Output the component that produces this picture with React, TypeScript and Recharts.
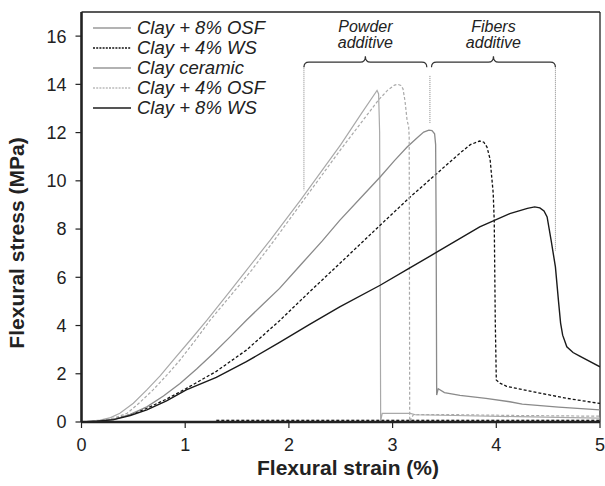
import React from 'react';
import { LineChart, Line, XAxis, YAxis, ReferenceLine } from 'recharts';

const FONT = '"Liberation Sans", Arial, Helvetica, sans-serif';

const xTicks = [0, 1, 2, 3, 4, 5];
const yTicks = [0, 2, 4, 6, 8, 10, 12, 14, 16];

const seriesNames = ['Clay + 8% OSF', 'Clay + 4% WS', 'Clay ceramic', 'Clay + 4% OSF', 'Clay + 8% WS'];

const clayOSF8 = [
  { x: 0, y: 0 }, { x: 0.18, y: 0.08 }, { x: 0.28, y: 0.18 }, { x: 0.37, y: 0.36 }, { x: 0.5, y: 0.78 },
  { x: 0.63, y: 1.33 }, { x: 0.76, y: 1.92 }, { x: 0.885, y: 2.57 }, { x: 1.05, y: 3.4 }, { x: 1.21, y: 4.22 },
  { x: 1.4, y: 5.25 }, { x: 1.59, y: 6.29 }, { x: 1.82, y: 7.54 }, { x: 2.11, y: 9.19 }, { x: 2.5, y: 11.5 },
  { x: 2.7, y: 12.8 }, { x: 2.85, y: 13.75 }, { x: 2.865, y: 13.6 }, { x: 2.875, y: 12 }, { x: 2.885, y: 0.05 },
  { x: 2.9, y: 0.36 }, { x: 3.17, y: 0.36 }, { x: 3.22, y: 0.3 }, { x: 3.6, y: 0.27 }, { x: 4.2, y: 0.22 }, { x: 5, y: 0.16 },
];

const clayWS4 = [
  { x: 0, y: 0 }, { x: 0.15, y: 0.03 }, { x: 0.31, y: 0.12 }, { x: 0.47, y: 0.3 }, { x: 0.63, y: 0.57 },
  { x: 0.82, y: 0.95 }, { x: 1.01, y: 1.39 }, { x: 1.3, y: 2.1 }, { x: 1.59, y: 2.98 }, { x: 1.91, y: 4.2 },
  { x: 2.2, y: 5.4 }, { x: 2.49, y: 6.57 }, { x: 2.88, y: 8.16 }, { x: 3.17, y: 9.33 }, { x: 3.46, y: 10.43 },
  { x: 3.65, y: 11.15 }, { x: 3.75, y: 11.5 }, { x: 3.84, y: 11.65 }, { x: 3.88, y: 11.6 }, { x: 3.91, y: 11.4 },
  { x: 3.94, y: 10.9 }, { x: 3.95, y: 10.43 }, { x: 3.97, y: 9.5 }, { x: 3.98, y: 8.36 }, { x: 3.99, y: 4.22 },
  { x: 4.0, y: 1.74 }, { x: 4.04, y: 1.6 }, { x: 4.1, y: 1.48 }, { x: 4.36, y: 1.25 }, { x: 4.68, y: 0.98 }, { x: 5, y: 0.77 },
];

const clayCeramic = [
  { x: 0, y: 0 }, { x: 0.15, y: 0.02 }, { x: 0.31, y: 0.1 }, { x: 0.47, y: 0.32 }, { x: 0.63, y: 0.63 },
  { x: 0.79, y: 1.08 }, { x: 0.95, y: 1.6 }, { x: 1.11, y: 2.2 }, { x: 1.27, y: 2.84 }, { x: 1.43, y: 3.52 },
  { x: 1.59, y: 4.22 }, { x: 1.75, y: 4.88 }, { x: 1.91, y: 5.54 }, { x: 2.11, y: 6.5 }, { x: 2.32, y: 7.5 },
  { x: 2.49, y: 8.36 }, { x: 2.7, y: 9.33 }, { x: 2.88, y: 10.16 }, { x: 3.02, y: 10.85 }, { x: 3.14, y: 11.4 },
  { x: 3.24, y: 11.8 }, { x: 3.3, y: 12.02 }, { x: 3.35, y: 12.1 }, { x: 3.38, y: 12.08 }, { x: 3.405, y: 11.95 },
  { x: 3.415, y: 11.5 }, { x: 3.42, y: 8 }, { x: 3.425, y: 1.12 }, { x: 3.44, y: 1.38 }, { x: 3.5, y: 1.22 },
  { x: 3.65, y: 1.1 }, { x: 3.9, y: 0.98 }, { x: 4.13, y: 0.84 }, { x: 4.25, y: 0.74 }, { x: 4.6, y: 0.62 }, { x: 5, y: 0.5 },
];

const clayOSF4 = [
  { x: 0, y: 0 }, { x: 0.2, y: 0.06 }, { x: 0.32, y: 0.17 }, { x: 0.44, y: 0.36 }, { x: 0.56, y: 0.8 },
  { x: 0.69, y: 1.33 }, { x: 0.82, y: 1.93 }, { x: 0.95, y: 2.57 }, { x: 1.1, y: 3.4 }, { x: 1.24, y: 4.22 },
  { x: 1.44, y: 5.25 }, { x: 1.64, y: 6.29 }, { x: 1.86, y: 7.54 }, { x: 2.14, y: 9.19 }, { x: 2.5, y: 11.3 },
  { x: 2.86, y: 13.33 }, { x: 2.95, y: 13.75 }, { x: 3.02, y: 13.97 }, { x: 3.05, y: 14.0 }, { x: 3.08, y: 13.95 },
  { x: 3.1, y: 13.82 }, { x: 3.12, y: 13.3 }, { x: 3.14, y: 12.5 }, { x: 3.155, y: 12.25 }, { x: 3.16, y: 11.8 },
  { x: 3.165, y: 0.03 }, { x: 3.2, y: 0.3 }, { x: 3.5, y: 0.31 }, { x: 4.2, y: 0.27 }, { x: 5, y: 0.24 },
];

const clayWS8 = [
  { x: 0, y: 0 }, { x: 0.15, y: 0.03 }, { x: 0.31, y: 0.1 }, { x: 0.47, y: 0.27 }, { x: 0.63, y: 0.5 },
  { x: 0.82, y: 0.88 }, { x: 1.01, y: 1.33 }, { x: 1.3, y: 1.85 }, { x: 1.59, y: 2.5 }, { x: 1.91, y: 3.3 },
  { x: 2.2, y: 4.05 }, { x: 2.49, y: 4.77 }, { x: 2.88, y: 5.67 }, { x: 3.15, y: 6.35 }, { x: 3.43, y: 7.05 },
  { x: 3.84, y: 8.09 }, { x: 4.13, y: 8.64 }, { x: 4.3, y: 8.86 }, { x: 4.37, y: 8.92 }, { x: 4.42, y: 8.88 },
  { x: 4.46, y: 8.75 }, { x: 4.49, y: 8.5 }, { x: 4.53, y: 7.5 }, { x: 4.57, y: 6.43 }, { x: 4.6, y: 5 },
  { x: 4.62, y: 4.1 }, { x: 4.64, y: 3.6 }, { x: 4.68, y: 3.12 }, { x: 4.74, y: 2.88 }, { x: 4.8, y: 2.74 }, { x: 5, y: 2.29 },
];

const wsBaseline = [{ x: 1.3, y: 0.06 }, { x: 5, y: 0.06 }];
const osfBaseline = [{ x: 1.3, y: 0.1 }, { x: 5, y: 0.1 }];

const powderBrace = [{ x: 2.145, y: 14.92 }, { x: 3.33, y: 14.92 }];
const fibersBrace = [{ x: 3.375, y: 14.92 }, { x: 4.57, y: 14.92 }];
const powderLeftGuide = [{ x: 2.145, y: 14.75 }, { x: 2.145, y: 9.6 }];
const powderRightGuide = [{ x: 3.36, y: 14.35 }, { x: 3.36, y: 12.4 }];
const fibersRightGuide = [{ x: 4.57, y: 14.75 }, { x: 4.57, y: 7.1 }];

const series = [
  { name: seriesNames[0], data: clayOSF8, stroke: '#a9a9a9', dash: undefined, width: 1.2, lStroke: '#b3b3b3', lWidth: 2 },
  { name: seriesNames[1], data: clayWS4, stroke: '#111111', dash: '3 2', width: 1.3, lStroke: '#111111', lWidth: 1.3 },
  { name: seriesNames[2], data: clayCeramic, stroke: '#8a8a8a', dash: undefined, width: 1.3, lStroke: '#999999', lWidth: 1.5 },
  { name: seriesNames[3], data: clayOSF4, stroke: '#a9a9a9', dash: '3 2', width: 1.2, lStroke: '#bbbbbb', lWidth: 1.3 },
  { name: seriesNames[4], data: clayWS8, stroke: '#1a1a1a', dash: undefined, width: 1.4, lStroke: '#555555', lWidth: 2 },
];

const makeBrace = (top: string, bottom: string) => (p: any) => {
  const { x1, x2, y1 } = p;
  const y = y1;
  const cx = (x1 + x2) / 2;
  const r = 5;
  const d = `M ${x1},${y + r} Q ${x1},${y} ${x1 + r},${y} L ${cx - 5},${y} Q ${cx},${y} ${cx},${y - 6} Q ${cx},${y} ${cx + 5},${y} L ${x2 - r},${y} Q ${x2},${y} ${x2},${y + r}`;
  return (
    <g>
      <path d={d} fill="none" stroke="#333" strokeWidth={1.2} />
      <text x={cx} y={y - 30} textAnchor="middle" fontStyle="italic" fontSize={16} fill="#222" fontFamily={FONT}>{top}</text>
      <text x={cx} y={y - 14} textAnchor="middle" fontStyle="italic" fontSize={16} fill="#222" fontFamily={FONT}>{bottom}</text>
    </g>
  );
};

const LegendBox = () => (
  <div style={{ position: 'absolute', left: 92, top: 18, fontFamily: FONT, fontStyle: 'italic', fontSize: 18.5, color: '#222', pointerEvents: 'none' }}>
    {series.map((s) => (
      <div key={s.name} style={{ display: 'flex', alignItems: 'center', height: 20, lineHeight: '20px', whiteSpace: 'nowrap' }}>
        <svg width={40} height={20} style={{ marginRight: 5, display: 'block' }}>
          <line x1={1} y1={10} x2={39} y2={10} stroke={s.lStroke} strokeWidth={s.lWidth} strokeDasharray={s.dash ? '2 1.2' : undefined} />
        </svg>
        <span>{s.name}</span>
      </div>
    ))}
  </div>
);

const YTitle = () => (
  <text transform="translate(24, 243) rotate(-90)" textAnchor="middle" fontSize={21} fontWeight="bold" fill="#222" fontFamily={FONT}>
    Flexural stress (MPa)
  </text>
);

const XTitle = () => (
  <text x={348} y={475} textAnchor="middle" fontSize={21} fontWeight="bold" fill="#222" fontFamily={FONT}>
    Flexural strain (%)
  </text>
);

export default function App() {
  return (
    <div style={{ position: 'absolute', left: 0, top: 0, width: 605, height: 486, background: '#fff' }}>
      <LineChart width={605} height={486} margin={{ top: 12, right: 5, left: 0, bottom: 0 }}>
        <XAxis
          dataKey="x"
          type="number"
          domain={[0, 5]}
          ticks={xTicks}
          allowDataOverflow
          height={64}
          tickSize={6}
          tickMargin={10}
          axisLine={{ stroke: '#222', strokeWidth: 2.6 }}
          tickLine={{ stroke: '#222', strokeWidth: 1.2 }}
          tick={{ fill: '#222', fontSize: 18, fontFamily: FONT }}
          label={{ content: XTitle }}
        />
        <YAxis
          type="number"
          domain={[0, 17]}
          ticks={yTicks}
          allowDataOverflow
          width={81.5}
          tickSize={6}
          tickMargin={9}
          axisLine={{ stroke: '#222', strokeWidth: 2.6 }}
          tickLine={{ stroke: '#222', strokeWidth: 1.2 }}
          tick={{ fill: '#222', fontSize: 18, fontFamily: FONT }}
          label={{ content: YTitle }}
        />
        <ReferenceLine y={17} stroke="#222" strokeWidth={1.6} />
        <ReferenceLine x={5} stroke="#222" strokeWidth={1.3} />
        <ReferenceLine segment={powderLeftGuide} stroke="#888" strokeWidth={1} strokeDasharray="1 1" />
        <ReferenceLine segment={powderRightGuide} stroke="#888" strokeWidth={1} strokeDasharray="1 1" />
        <ReferenceLine segment={fibersRightGuide} stroke="#888" strokeWidth={1} strokeDasharray="1 1" />
        <ReferenceLine segment={powderBrace} shape={makeBrace('Powder', 'additive')} />
        <ReferenceLine segment={fibersBrace} shape={makeBrace('Fibers', 'additive')} />
        <Line data={osfBaseline} dataKey="y" stroke="#b0b0b0" strokeWidth={1} strokeDasharray="3 2" dot={false} isAnimationActive={false} legendType="none" />
        <Line data={wsBaseline} dataKey="y" stroke="#111" strokeWidth={1} strokeDasharray="3 2" dot={false} isAnimationActive={false} legendType="none" />
        {series.map((s) => (
          <Line
            key={s.name}
            name={s.name}
            data={s.data}
            dataKey="y"
            type="linear"
            stroke={s.stroke}
            strokeWidth={s.width}
            strokeDasharray={s.dash}
            dot={false}
            activeDot={false}
            isAnimationActive={false}
          />
        ))}
      </LineChart>
      <LegendBox />
    </div>
  );
}
